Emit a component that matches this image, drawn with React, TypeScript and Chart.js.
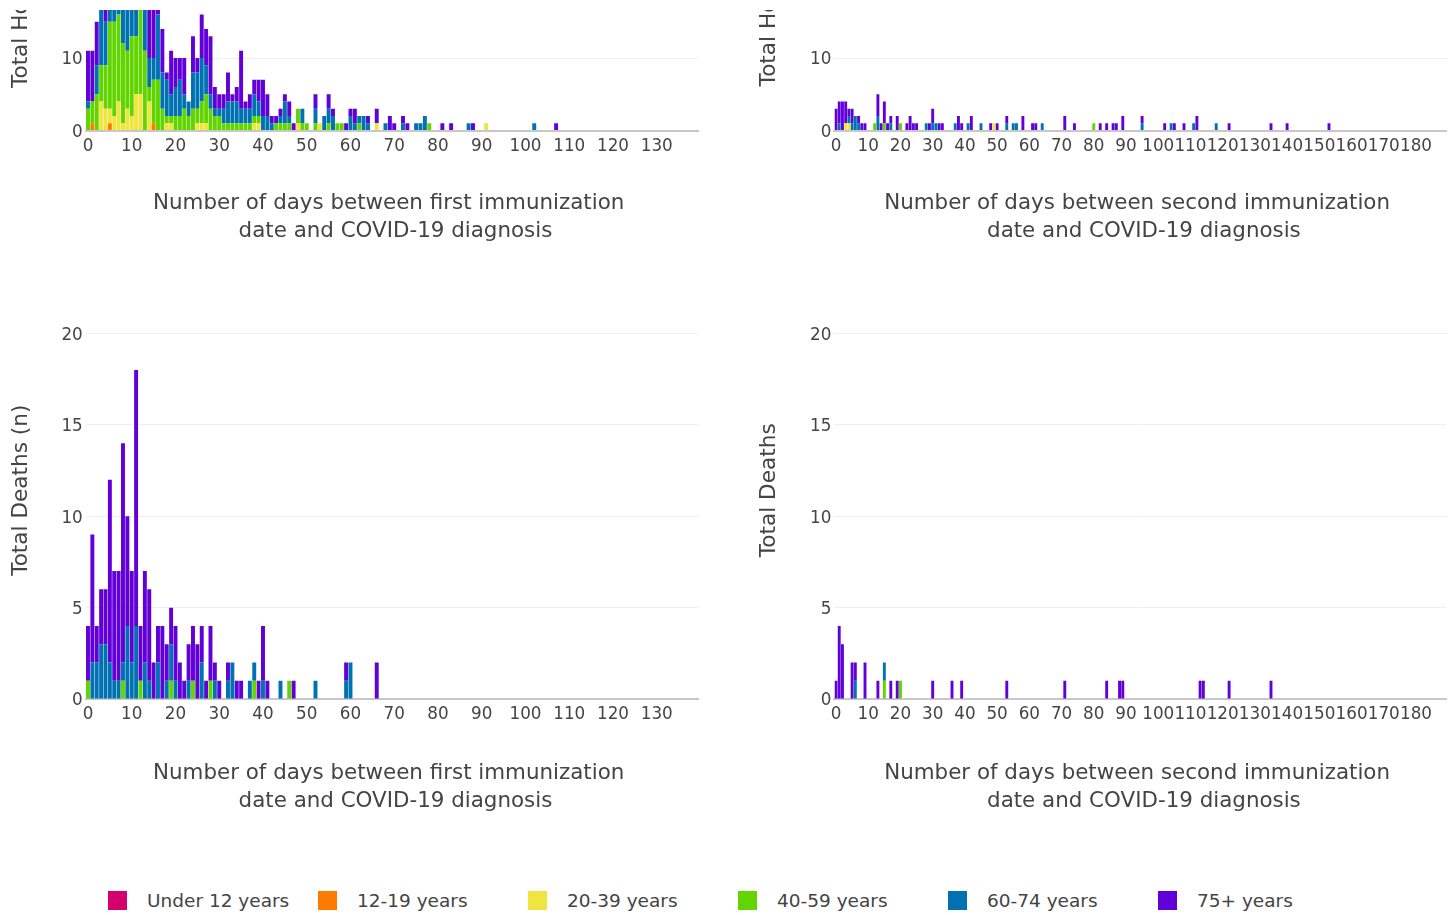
import React, { useEffect, useRef } from 'react';
import { Chart, registerables } from 'chart.js';

Chart.register(...registerables);

const FONT = "'DejaVu Sans', Verdana, sans-serif";
const TEXT = '#444444';

const AGE_GROUPS = ['Under 12 years', '12-19 years', '20-39 years', '40-59 years', '60-74 years', '75+ years'];
const AGE_COLORS = ['#d5006e', '#ff7b00', '#f0e43e', '#62d400', '#0072b2', '#6200d9'];

const FIRST_DOSE_DAY_COUNT = 140;
const SECOND_DOSE_DAY_COUNT = 190;

const X_TITLE_FIRST = ['Number of days between first immunization ', ' date and COVID-19 diagnosis'];
const X_TITLE_SECOND = ['Number of days between second immunization ', ' date and COVID-19 diagnosis'];

// rows: [day, under 12, 12-19, 20-39, 40-59, 60-74, 75+]
const firstDoseHosp = [
  [0, 0, 0, 0, 3, 1, 7], [1, 0, 1, 0, 3, 0, 7], [2, 0, 0, 0, 5, 4, 6], [3, 0, 0, 4, 5, 8, 5],
  [4, 0, 0, 3, 6, 6, 6], [5, 0, 1, 2, 12, 4, 5], [6, 0, 0, 2, 13, 5, 4], [7, 0, 0, 4, 12, 4, 6],
  [8, 0, 0, 1, 11, 7, 3], [9, 0, 0, 3, 8, 7, 5], [10, 0, 0, 2, 11, 6, 4], [11, 0, 0, 5, 8, 4, 5],
  [12, 0, 0, 5, 12, 3, 2], [13, 0, 0, 0, 11, 9, 3], [14, 0, 0, 4, 2, 4, 8], [15, 0, 1, 0, 6, 3, 9],
  [16, 0, 0, 0, 7, 9, 2], [17, 0, 0, 0, 3, 5, 6], [18, 0, 0, 1, 1, 5, 1], [19, 0, 0, 1, 1, 3, 6],
  [20, 0, 0, 0, 2, 4, 4], [21, 0, 0, 0, 2, 5, 3], [22, 0, 0, 0, 3, 2, 5], [23, 0, 0, 0, 2, 2, 0],
  [24, 0, 0, 0, 3, 5, 5], [25, 0, 0, 1, 2, 5, 2], [26, 0, 0, 1, 3, 6, 6], [27, 0, 0, 1, 4, 4, 5],
  [28, 0, 0, 0, 3, 2, 8], [29, 0, 0, 0, 2, 1, 3], [30, 0, 0, 0, 2, 1, 2], [31, 0, 0, 0, 1, 2, 2],
  [32, 0, 0, 0, 1, 3, 4], [33, 0, 0, 0, 1, 3, 1], [34, 0, 0, 0, 1, 3, 2], [35, 0, 0, 0, 1, 2, 8],
  [36, 0, 0, 0, 1, 2, 1], [37, 0, 0, 0, 1, 2, 2], [38, 0, 0, 1, 1, 3, 2], [39, 0, 0, 1, 1, 2, 3],
  [40, 0, 0, 0, 0, 2, 5], [41, 0, 0, 0, 0, 2, 3], [42, 0, 0, 0, 0, 1, 1], [43, 0, 0, 0, 1, 0, 1],
  [44, 0, 0, 0, 1, 1, 1], [45, 0, 0, 0, 1, 3, 1], [46, 0, 0, 0, 1, 1, 2], [47, 0, 0, 0, 0, 0, 1],
  [48, 0, 0, 1, 2, 0, 0], [49, 0, 0, 0, 1, 2, 0], [50, 0, 0, 0, 1, 0, 0], [52, 0, 0, 0, 1, 2, 2],
  [53, 0, 0, 1, 0, 0, 0], [54, 0, 0, 0, 0, 2, 0], [55, 0, 0, 0, 1, 2, 2], [56, 0, 0, 0, 0, 2, 1],
  [57, 0, 0, 0, 1, 0, 0], [58, 0, 0, 0, 1, 0, 0], [59, 0, 0, 0, 0, 0, 1], [60, 0, 0, 0, 0, 2, 1],
  [61, 0, 0, 0, 0, 1, 2], [62, 0, 0, 0, 1, 1, 0], [63, 0, 0, 0, 0, 2, 0], [64, 0, 0, 0, 0, 1, 1],
  [66, 0, 0, 1, 0, 0, 2], [68, 0, 0, 0, 0, 1, 0], [69, 0, 0, 0, 0, 0, 2], [70, 0, 0, 0, 0, 0, 1],
  [72, 0, 0, 0, 0, 1, 1], [73, 0, 0, 0, 0, 0, 1], [75, 0, 0, 0, 0, 1, 0], [76, 0, 0, 0, 0, 1, 0],
  [77, 0, 0, 0, 0, 2, 0], [78, 0, 0, 0, 1, 0, 0], [81, 0, 0, 0, 0, 0, 1], [83, 0, 0, 0, 0, 0, 1],
  [87, 0, 0, 0, 0, 1, 0], [88, 0, 0, 0, 0, 0, 1], [91, 0, 0, 1, 0, 0, 0], [102, 0, 0, 0, 0, 1, 0],
  [107, 0, 0, 0, 0, 0, 1],
];

const secondDoseHosp = [
  [0, 0, 0, 0, 0, 0, 3], [1, 0, 0, 0, 0, 1, 3], [2, 0, 0, 0, 0, 0, 4], [3, 0, 0, 1, 0, 0, 3],
  [4, 0, 0, 1, 0, 1, 1], [5, 0, 0, 0, 0, 1, 2], [6, 0, 0, 0, 0, 2, 0], [7, 0, 0, 0, 0, 1, 1],
  [8, 0, 0, 0, 0, 0, 1], [9, 0, 0, 0, 0, 0, 1], [12, 0, 0, 0, 1, 0, 0], [13, 0, 0, 0, 0, 2, 3],
  [14, 0, 0, 0, 0, 0, 1], [15, 0, 0, 0, 1, 0, 3], [16, 0, 0, 0, 0, 0, 1], [17, 0, 0, 0, 0, 1, 1],
  [19, 0, 0, 0, 0, 0, 2], [20, 0, 0, 0, 1, 0, 0], [22, 0, 0, 0, 0, 0, 1], [23, 0, 0, 0, 0, 0, 2],
  [24, 0, 0, 0, 0, 0, 1], [25, 0, 0, 0, 0, 0, 1], [28, 0, 0, 0, 0, 1, 0], [29, 0, 0, 0, 0, 0, 1],
  [30, 0, 0, 0, 0, 1, 2], [31, 0, 0, 0, 0, 1, 0], [32, 0, 0, 0, 0, 0, 1], [33, 0, 0, 0, 0, 0, 1],
  [37, 0, 0, 0, 0, 1, 0], [38, 0, 0, 0, 0, 0, 2], [39, 0, 0, 0, 0, 0, 1], [41, 0, 0, 0, 0, 1, 0],
  [42, 0, 0, 0, 0, 0, 2], [45, 0, 0, 0, 0, 1, 0], [48, 0, 0, 0, 0, 0, 1], [49, 0, 0, 1, 0, 0, 0],
  [50, 0, 0, 0, 0, 0, 1], [53, 0, 0, 0, 0, 1, 1], [55, 0, 0, 0, 0, 1, 0], [56, 0, 0, 0, 0, 1, 0],
  [58, 0, 0, 0, 0, 0, 2], [61, 0, 0, 0, 0, 0, 1], [62, 0, 0, 0, 0, 0, 1], [64, 0, 0, 0, 0, 1, 0],
  [71, 0, 0, 0, 0, 0, 2], [74, 0, 0, 0, 0, 0, 1], [80, 0, 0, 0, 1, 0, 0], [82, 0, 0, 0, 0, 0, 1],
  [84, 0, 0, 0, 0, 0, 1], [86, 0, 0, 0, 0, 0, 1], [87, 0, 0, 0, 0, 0, 1], [89, 0, 0, 0, 0, 0, 2],
  [95, 0, 0, 0, 0, 1, 1], [102, 0, 0, 0, 0, 0, 1], [104, 0, 0, 0, 0, 1, 0], [105, 0, 0, 0, 0, 0, 1],
  [108, 0, 0, 0, 0, 0, 1], [111, 0, 0, 0, 0, 1, 0], [112, 0, 0, 0, 0, 0, 2], [118, 0, 0, 0, 0, 1, 0],
  [122, 0, 0, 0, 0, 0, 1], [135, 0, 0, 0, 0, 0, 1], [140, 0, 0, 0, 0, 0, 1], [153, 0, 0, 0, 0, 0, 1],
];

const firstDoseDeaths = [
  [0, 0, 0, 0, 1, 0, 3], [1, 0, 0, 0, 0, 2, 7], [2, 0, 0, 0, 0, 2, 2], [3, 0, 0, 0, 0, 3, 3],
  [4, 0, 0, 0, 0, 3, 3], [5, 0, 0, 0, 0, 2, 10], [6, 0, 0, 0, 0, 1, 6], [7, 0, 0, 0, 0, 1, 6],
  [8, 0, 0, 0, 1, 1, 12], [9, 0, 0, 0, 0, 4, 6], [10, 0, 0, 0, 0, 2, 5], [11, 0, 0, 0, 0, 4, 14],
  [12, 0, 0, 0, 1, 0, 3], [13, 0, 0, 0, 0, 2, 5], [14, 0, 0, 0, 0, 1, 5], [15, 0, 0, 0, 0, 0, 2],
  [16, 0, 0, 0, 0, 2, 2], [17, 0, 0, 0, 0, 0, 4], [18, 0, 0, 0, 0, 1, 2], [19, 0, 0, 0, 1, 2, 2],
  [20, 0, 0, 0, 0, 1, 3], [21, 0, 0, 0, 0, 0, 2], [22, 0, 0, 0, 0, 0, 1], [23, 0, 0, 0, 0, 1, 2],
  [24, 0, 0, 0, 1, 0, 3], [25, 0, 0, 0, 0, 0, 3], [26, 0, 0, 0, 0, 2, 2], [27, 0, 0, 0, 0, 0, 1],
  [28, 0, 0, 0, 1, 0, 3], [29, 0, 0, 0, 0, 1, 1], [30, 0, 0, 0, 0, 0, 1], [32, 0, 0, 0, 0, 1, 1],
  [33, 0, 0, 0, 0, 2, 0], [34, 0, 0, 0, 0, 0, 1], [35, 0, 0, 0, 0, 0, 1], [37, 0, 0, 0, 0, 1, 0],
  [38, 0, 0, 0, 1, 1, 0], [39, 0, 0, 0, 0, 0, 1], [40, 0, 0, 0, 0, 1, 3], [41, 0, 0, 0, 0, 0, 1],
  [44, 0, 0, 0, 0, 1, 0], [46, 0, 0, 0, 1, 0, 0], [47, 0, 0, 0, 0, 0, 1], [52, 0, 0, 0, 0, 1, 0],
  [59, 0, 0, 0, 0, 1, 1], [60, 0, 0, 0, 0, 2, 0], [66, 0, 0, 0, 0, 0, 2],
];

const secondDoseDeaths = [
  [0, 0, 0, 0, 0, 0, 1], [1, 0, 0, 0, 0, 0, 4], [2, 0, 0, 0, 0, 0, 3], [5, 0, 0, 0, 0, 0, 2],
  [6, 0, 0, 0, 0, 1, 1], [9, 0, 0, 0, 0, 0, 2], [13, 0, 0, 0, 0, 0, 1], [15, 0, 0, 0, 1, 1, 0],
  [17, 0, 0, 0, 0, 0, 1], [19, 0, 0, 0, 0, 0, 1], [20, 0, 0, 0, 1, 0, 0], [30, 0, 0, 0, 0, 0, 1],
  [36, 0, 0, 0, 0, 0, 1], [39, 0, 0, 0, 0, 0, 1], [53, 0, 0, 0, 0, 0, 1], [71, 0, 0, 0, 0, 0, 1],
  [84, 0, 0, 0, 0, 0, 1], [88, 0, 0, 0, 0, 0, 1], [89, 0, 0, 0, 0, 0, 1], [113, 0, 0, 0, 0, 0, 1],
  [114, 0, 0, 0, 0, 0, 1], [122, 0, 0, 0, 0, 0, 1], [135, 0, 0, 0, 0, 0, 1],
];

type Box = { left: number; top: number; width: number; height: number };
type Area = { left: number; right: number; top: number; bottom: number };
type PanelSpec = {
  rows: number[][];
  dayCount: number;
  yTitle: string;
  xTitle: string[];
  yMax: number;
  yStep: number;
  yLimit: number;
  canvas: Box;
  area: Area;
  titleBottomPad: number;
};

function buildDatasets(rows: number[][], dayCount: number) {
  return AGE_GROUPS.map((label, gi) => {
    const data = new Array(dayCount).fill(0);
    rows.forEach((r) => {
      data[r[0]] += r[gi + 1];
    });
    return {
      label,
      data,
      backgroundColor: AGE_COLORS[gi],
      borderWidth: 0,
      barPercentage: 1,
      categoryPercentage: 0.9,
      stack: 'age',
    };
  });
}

function Panel({ spec, offsetTop }: { spec: PanelSpec; offsetTop: number }) {
  const ref = useRef<HTMLCanvasElement | null>(null);
  useEffect(() => {
    const el = ref.current;
    if (!el) return;
    const { canvas: c, area } = spec;
    const labels = Array.from({ length: spec.dayCount }, (_, i) => String(i));
    const chart = new Chart(el, {
      type: 'bar',
      data: { labels, datasets: buildDatasets(spec.rows, spec.dayCount) as any },
      options: {
        animation: false,
        responsive: false,
        maintainAspectRatio: false,
        events: [],
        layout: {
          padding: {
            left: 0,
            top: area.top - c.top,
            right: c.left + c.width - area.right,
            bottom: 0,
          },
        },
        plugins: { legend: { display: false }, tooltip: { enabled: false } },
        scales: {
          x: {
            stacked: true,
            offset: true,
            grid: { display: false, drawTicks: false },
            border: { display: true, color: '#c8c8c8', width: 2 },
            ticks: {
              autoSkip: false,
              maxRotation: 0,
              minRotation: 0,
              padding: 6,
              color: TEXT,
              font: { family: FONT, size: 16.8 },
              callback: (_v: any, i: number) => (i % 10 === 0 ? String(i) : ''),
            },
            title: {
              display: true,
              text: spec.xTitle,
              color: TEXT,
              font: { family: FONT, size: 21.4, lineHeight: 1.3 },
              padding: { top: 0, bottom: spec.titleBottomPad },
            },
            afterFit: (s: any) => {
              s.height = c.top + c.height - area.bottom;
            },
          },
          y: {
            stacked: true,
            min: 0,
            max: spec.yMax,
            grid: { color: '#efefef', lineWidth: 1, drawTicks: false },
            border: { display: false },
            ticks: {
              stepSize: spec.yStep,
              padding: 3,
              labelOffset: 2,
              color: TEXT,
              font: { family: FONT, size: 16.8 },
            },
            afterBuildTicks: (s: any) => {
              s.ticks = s.ticks.filter((t: any) => t.value % spec.yStep === 0 && t.value <= spec.yLimit);
            },
            title: {
              display: true,
              text: spec.yTitle,
              color: TEXT,
              font: { family: FONT, size: 21.6, lineHeight: 1.35 },
              padding: { top: 6.4, bottom: 0 },
            },
            afterFit: (s: any) => {
              s.width = area.left - c.left;
            },
          },
        },
      } as any,
    });
    return () => chart.destroy();
  }, [spec]);
  const c = spec.canvas;
  return (
    <canvas
      ref={ref}
      width={c.width}
      height={c.height}
      style={{ position: 'absolute', left: c.left, top: c.top - offsetTop, width: c.width, height: c.height, display: 'block' }}
    />
  );
}

const LEFT_AREA_X = { left: 85.8, right: 698.3 };
const RIGHT_AREA_X = { left: 834.4, right: 1446.6 };

const PANELS_TOP: PanelSpec[] = [
  {
    rows: firstDoseHosp,
    dayCount: FIRST_DOSE_DAY_COUNT,
    yTitle: 'Total Hospitalizations (n)',
    xTitle: X_TITLE_FIRST,
    yMax: 48.4,
    yStep: 10,
    yLimit: 40,
    canvas: { left: 0, top: -262, width: 730, height: 517 },
    area: { ...LEFT_AREA_X, top: -220.3, bottom: 130.5 },
    titleBottomPad: 10,
  },
  {
    rows: secondDoseHosp,
    dayCount: SECOND_DOSE_DAY_COUNT,
    yTitle: 'Total Hospitalizations',
    xTitle: X_TITLE_SECOND,
    yMax: 43.7,
    yStep: 10,
    yLimit: 40,
    canvas: { left: 748, top: -262, width: 707, height: 517 },
    area: { ...RIGHT_AREA_X, top: -186.3, bottom: 130.5 },
    titleBottomPad: 10,
  },
];

const PANELS_BOTTOM: PanelSpec[] = [
  {
    rows: firstDoseDeaths,
    dayCount: FIRST_DOSE_DAY_COUNT,
    yTitle: 'Total Deaths (n)',
    xTitle: X_TITLE_FIRST,
    yMax: 22.85,
    yStep: 5,
    yLimit: 20,
    canvas: { left: 0, top: 262, width: 730, height: 568 },
    area: { ...LEFT_AREA_X, top: 281.5, bottom: 699 },
    titleBottomPad: 15,
  },
  {
    rows: secondDoseDeaths,
    dayCount: SECOND_DOSE_DAY_COUNT,
    yTitle: 'Total Deaths',
    xTitle: X_TITLE_SECOND,
    yMax: 22.85,
    yStep: 5,
    yLimit: 20,
    canvas: { left: 748, top: 262, width: 707, height: 568 },
    area: { ...RIGHT_AREA_X, top: 281.5, bottom: 699 },
    titleBottomPad: 15,
  },
];

const TOP_CLIP = 10;

export default function App() {
  return (
    <div style={{ position: 'absolute', left: 0, top: 0, width: 1455, height: 915, background: '#fff', overflow: 'hidden' }}>
      <div style={{ position: 'absolute', left: 0, top: TOP_CLIP, width: 1455, height: 255 - TOP_CLIP, overflow: 'hidden' }}>
        {PANELS_TOP.map((p, i) => (
          <Panel key={i} spec={p} offsetTop={TOP_CLIP} />
        ))}
      </div>
      {PANELS_BOTTOM.map((p, i) => (
        <Panel key={i} spec={p} offsetTop={0} />
      ))}
      {AGE_GROUPS.map((g, i) => (
        <div key={g} style={{ position: 'absolute', left: 108 + i * 210, top: 891, height: 19, display: 'flex', alignItems: 'center' }}>
          <span style={{ display: 'inline-block', width: 19, height: 19, background: AGE_COLORS[i] }} />
          <span style={{ marginLeft: 20, fontFamily: FONT, fontSize: 18.5, color: TEXT, whiteSpace: 'nowrap', lineHeight: '19px' }}>{g}</span>
        </div>
      ))}
    </div>
  );
}
